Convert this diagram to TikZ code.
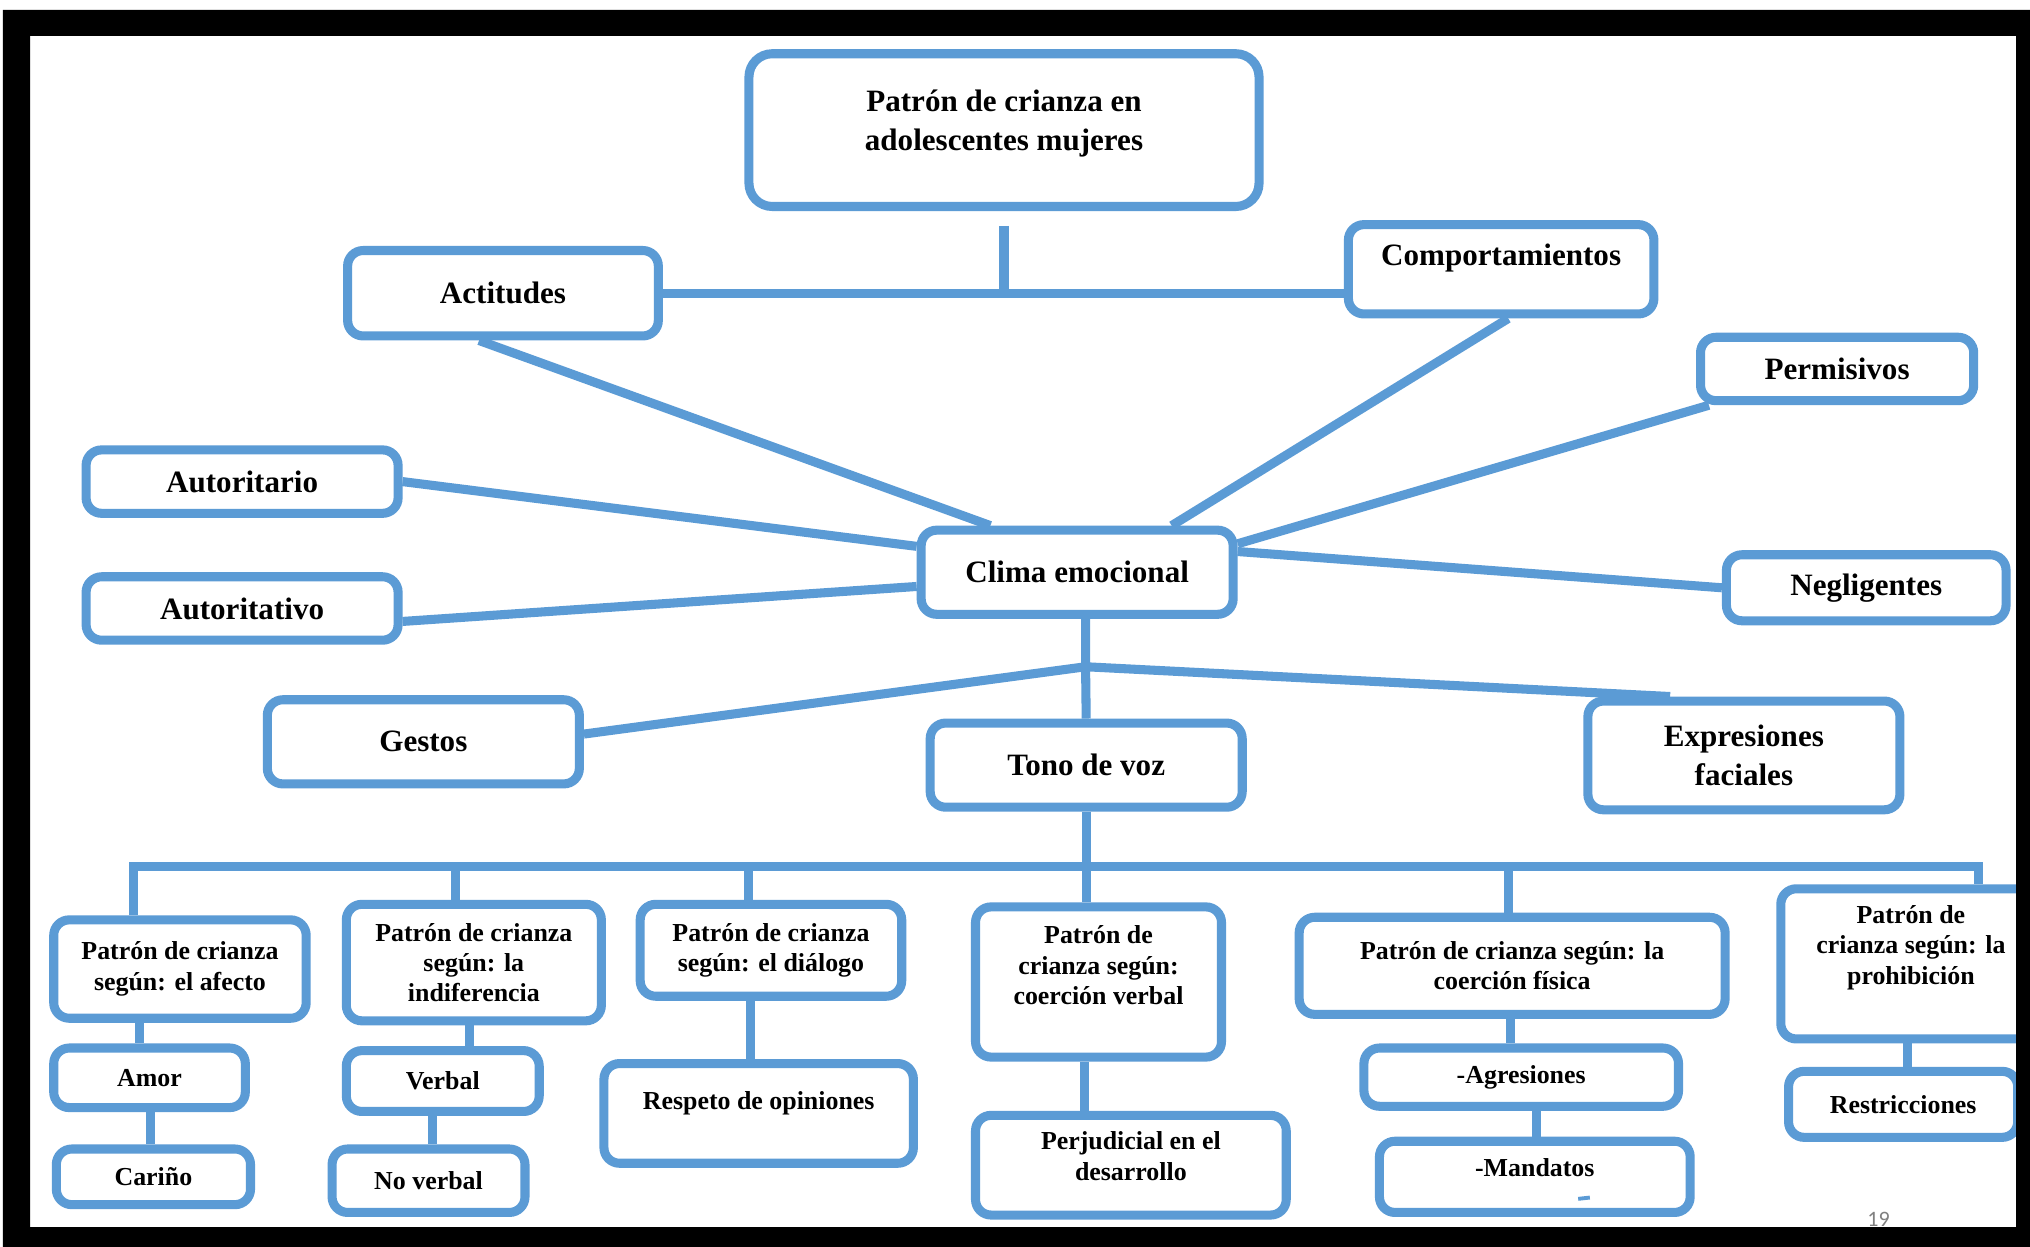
\documentclass[tikz,border=0pt]{standalone}
\usepackage{fontspec}
\setmainfont{Liberation Serif}
\setsansfont{Carlito}
\definecolor{boxblue}{HTML}{5B9BD5}

\begin{document}
\begin{tikzpicture}[x=1pt,y=-1pt,
    box/.style={draw=boxblue,line width=7pt,rounded corners=12pt,align=center,inner sep=2pt,
      font=\bfseries\fontsize{24}{30}\selectfont},
    sbox/.style={box,font=\bfseries\fontsize{20}{23.5}\selectfont},
    btext/.style={align=center,inner sep=0pt,font=\bfseries\fontsize{24}{30}\selectfont},
    stext/.style={btext,font=\bfseries\fontsize{20}{23.5}\selectfont},
    link/.style={draw=boxblue,line width=7pt}]
  \useasboundingbox (0,0) rectangle (1568,963);
  \fill[white] (0,0) rectangle (1568,963);

  % upper part
  \node[box,minimum width=394pt,minimum height=118pt,rounded corners=18pt] (top) at (775.5,100.5) {};
  \node[btext] (top-t) at ([yshift=5pt]top.center) {Patrón de crianza en\\adolescentes mujeres};
  \node[box,minimum width=240pt,minimum height=66pt] (act) at (388.5,226.5) {Actitudes};
  \node[box,minimum width=236pt,minimum height=69pt] (comp) at (1159.5,208) {};
  \node[btext] (comp-t) at ([yshift=9pt]comp.center) {Comportamientos};
  \node[box,minimum width=211pt,minimum height=49pt] (perm) at (1419,285) {Permisivos};
  \node[box,minimum width=241pt,minimum height=49pt] (autr) at (187,372) {Autoritario};
  \node[box,minimum width=241pt,minimum height=65pt] (clima) at (832,442) {Clima emocional};
  \node[box,minimum width=216pt,minimum height=51pt] (negl) at (1441.5,454) {Negligentes};
  \node[box,minimum width=241pt,minimum height=49pt] (autv) at (187,470) {Autoritativo};
  \node[box,minimum width=241pt,minimum height=65pt] (gestos) at (327,573) {Gestos};
  \node[box,minimum width=241pt,minimum height=65pt] (tono) at (839,591) {Tono de voz};
  \node[box,minimum width=241pt,minimum height=84pt] (expr) at (1347,583.5) {Expresiones\\faciales};

  % lower part
  \node[sbox,minimum width=195pt,minimum height=76pt] (afe) at (139,748.5) {Patrón de crianza\\según: el afecto};
  \node[sbox,minimum width=148pt,minimum height=46pt] (amor) at (115.5,832.5) {Amor};
  \node[sbox,minimum width=150pt,minimum height=43pt] (car) at (118.5,909) {Cariño};
  \node[sbox,minimum width=197pt,minimum height=90pt] (ind) at (366,743.5) {Patrón de crianza\\según: la\\indiferencia};
  \node[sbox,minimum width=149pt,minimum height=47pt] (verbal) at (342,835) {Verbal};
  \node[sbox,minimum width=149pt,minimum height=49pt] (nov) at (331,912) {No verbal};
  \node[sbox,minimum width=202pt,minimum height=71pt] (dia) at (595.5,734) {Patrón de crianza\\según: el diálogo};
  \node[sbox,minimum width=239pt,minimum height=77pt] (resp) at (586,860) {};
  \node[stext] (resp-t) at ([yshift=8pt]resp.center) {Respeto de opiniones};
  \node[sbox,minimum width=190pt,minimum height=116pt] (cv) at (848.5,758.5) {};
  \node[stext] (cv-t) at ([yshift=13pt]cv.center) {Patrón de\\crianza según:\\coerción verbal};
  \node[sbox,minimum width=240pt,minimum height=77pt] (perj) at (873.5,900) {};
  \node[stext] (perj-t) at ([yshift=7pt]perj.center) {Perjudicial en el\\desarrollo};
  \node[sbox,minimum width=329pt,minimum height=75pt] (fis) at (1168,746) {Patrón de crianza según: la\\coerción física};
  \node[sbox,minimum width=243pt,minimum height=45pt] (agre) at (1175,832) {-Agresiones};
  \node[sbox,minimum width=240pt,minimum height=55pt] (mand) at (1185.5,909) {};
  \node[stext] (mand-t) at ([yshift=7pt]mand.center) {-Mandatos};
  \node[sbox,minimum width=201pt,minimum height=116pt] (proh) at (1476,744.5) {};
  \node[stext] (proh-t) at ([yshift=12.5pt]proh.center) {Patrón de\\crianza según: la\\prohibición};
  \node[sbox,minimum width=177pt,minimum height=51pt] (restr) at (1470,853) {Restricciones};

  % links of the upper part
  \path[link]
    (top.south) edge[shorten <=11.5pt] (top.south |- act.east)
    (act.east) edge (act.east -| comp.west)
    ([xshift=-18.5pt]act.south) edge ([xshift=-67pt]clima.north)
    ([xshift=5.5pt]comp.south) edge ([xshift=73pt]clima.north)
    ([xshift=10pt]perm.south west) edge ([yshift=22pt]clima.east)
    (negl.west) edge ([yshift=16pt]clima.east)
    (autr.east) edge ([yshift=20pt]clima.west)
    ([yshift=-10pt]autv.east) edge ([yshift=-11pt]clima.west);

  \coordinate (j2) at (838.5,515);
  \draw[link] ([xshift=6.5pt]clima.south) -- (j2) -- (tono.north);
  \path[link]
    (j2) edge ([yshift=6pt]gestos.east)
    (j2) edge ([xshift=-57pt]expr.north);

  % bus to the lower part
  \coordinate (bus) at (839,669);
  \coordinate (bl) at (103,669);
  \coordinate (br) at (1528,669);
  \coordinate (d2) at (352,669);
  \coordinate (d3) at (578,669);
  \coordinate (d5) at (1165,669);
  \draw[link] (tono.south) -- (bus);
  \draw[link] (bl |- afe.north) -- (bl) -- (br) -- (br |- proh.north);
  \foreach \c/\n in {d2/ind,d3/dia,bus/cv,d5/fis}
    \draw[link] (\c) -- (\c |- \n.north);
  \foreach \a/\b/\xx in {afe/amor/108,amor/car/116,ind/verbal/363,verbal/nov/334,dia/resp/580,
      cv/perj/838,fis/agre/1167,agre/mand/1187,proh/restr/1473}
    \draw[link] (\xx,0 |- \a.south) -- (\xx,0 |- \b.north);

  \draw[boxblue,line width=3pt] (1219,926) -- (1228,925);
  \node[anchor=base,text=gray,font=\sffamily\fontsize{17}{17}\selectfont] (pg) at (1451,947) {19};

  % frame
  \fill[black,even odd rule] (2.3,7.7) rectangle (1568,963) (23.2,27.8) rectangle (1557.2,947.8);
\end{tikzpicture}
\end{document}
